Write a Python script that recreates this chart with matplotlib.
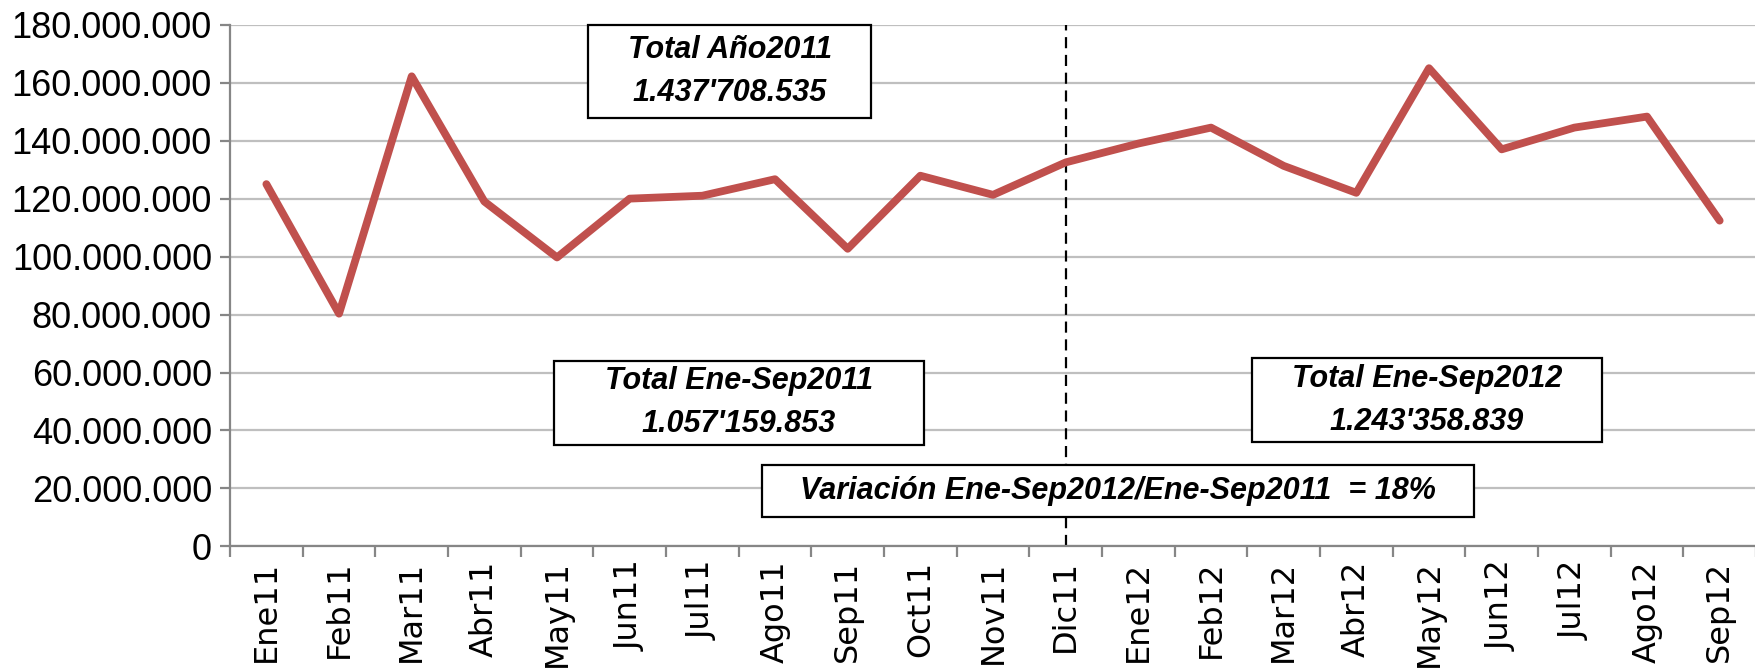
import matplotlib
matplotlib.use("Agg")
import numpy as np
import matplotlib.pyplot as plt
from matplotlib.patches import Rectangle
from matplotlib.ticker import FuncFormatter, FixedLocator

months = ["Ene11", "Feb11", "Mar11", "Abr11", "May11", "Jun11", "Jul11",
          "Ago11", "Sep11", "Oct11", "Nov11", "Dic11", "Ene12", "Feb12",
          "Mar12", "Abr12", "May12", "Jun12", "Jul12", "Ago12", "Sep12"]
values = [125.0, 80.3, 162.2, 119.0, 99.7, 120.0, 121.0, 126.7, 102.7,
          127.9, 121.3, 132.5, 139.0, 144.5, 131.3, 122.0, 165.0, 137.0,
          144.5, 148.3, 112.4]  # millions
y_ticks = [0, 20, 40, 60, 80, 100, 120, 140, 160, 180]  # millions
split_label = "Dic11"

note_total_2011 = "Total Año2011\n1.437'708.535"
note_ene_sep_2011 = "Total Ene-Sep2011\n1.057'159.853"
note_ene_sep_2012 = "Total Ene-Sep2012\n1.243'358.839"
note_variation = "Variación Ene-Sep2012/Ene-Sep2011  = 18%"

LINE_COLOR = "#C0504D"
GRID_COLOR = "#BFBFBF"
AXIS_COLOR = "#868686"


def fmt_dots(v, _pos):
    if v == 0:
        return "0"
    return f"{int(round(v * 1e6)):,}".replace(",", ".")


fig = plt.figure(figsize=(17.56, 6.68), dpi=100)
ax = fig.add_axes([0.131, 0.182, 0.869, 0.781])

x = np.arange(len(months))
ax.plot(x, values, color=LINE_COLOR, lw=5.6, solid_joinstyle="round",
        solid_capstyle="round", zorder=3)

ax.set_xlim(-0.5, len(months) - 0.5)
ax.set_ylim(0, 180)

# grid + axes
ax.set_yticks(y_ticks)
ax.yaxis.set_major_formatter(FuncFormatter(fmt_dots))
ax.grid(axis="y", color=GRID_COLOR, lw=1.6, zorder=0)
for side in ("top", "right"):
    ax.spines[side].set_visible(False)
for side in ("left", "bottom"):
    ax.spines[side].set_color(AXIS_COLOR)
    ax.spines[side].set_linewidth(1.6)
ax.tick_params(axis="y", direction="out", length=7, width=1.6, color=AXIS_COLOR,
               pad=6, labelsize=26)
for lab in ax.get_yticklabels():
    lab.set_fontfamily("Liberation Sans")

ax.set_xticks(x)
ax.set_xticklabels(months, rotation=90, va="top", ha="center",
                   fontfamily="DejaVu Sans", fontsize=23)
ax.tick_params(axis="x", which="major", length=0, pad=10)
ax.xaxis.set_minor_locator(FixedLocator(np.arange(-0.5, len(months), 1.0)))
ax.tick_params(axis="x", which="minor", direction="out", length=8, width=1.6,
               color=AXIS_COLOR)

# divider between years
xs = months.index(split_label)
ax.axvline(xs, color="black", lw=1.6, ls=(0, (5, 3)), zorder=2)


def note(x0, x1, y0, y1, text, ls=1.55):
    ax.add_patch(Rectangle((x0, y0), x1 - x0, y1 - y0, facecolor="white",
                           edgecolor="black", lw=1.6, zorder=4, clip_on=False))
    ax.text((x0 + x1) / 2, (y0 + y1) / 2, text, ha="center", va="center",
            fontfamily="Liberation Sans", fontsize=22, fontweight="bold",
            fontstyle="italic", linespacing=ls, zorder=5)


note(4.43, 8.32, 147.8, 179.8, note_total_2011)
note(3.96, 9.05, 35.0, 64.1, note_ene_sep_2011)
note(13.56, 18.38, 35.9, 64.9, note_ene_sep_2012)
note(6.82, 16.62, 10.0, 28.2, note_variation)

fig.savefig("out.png", dpi=100)
